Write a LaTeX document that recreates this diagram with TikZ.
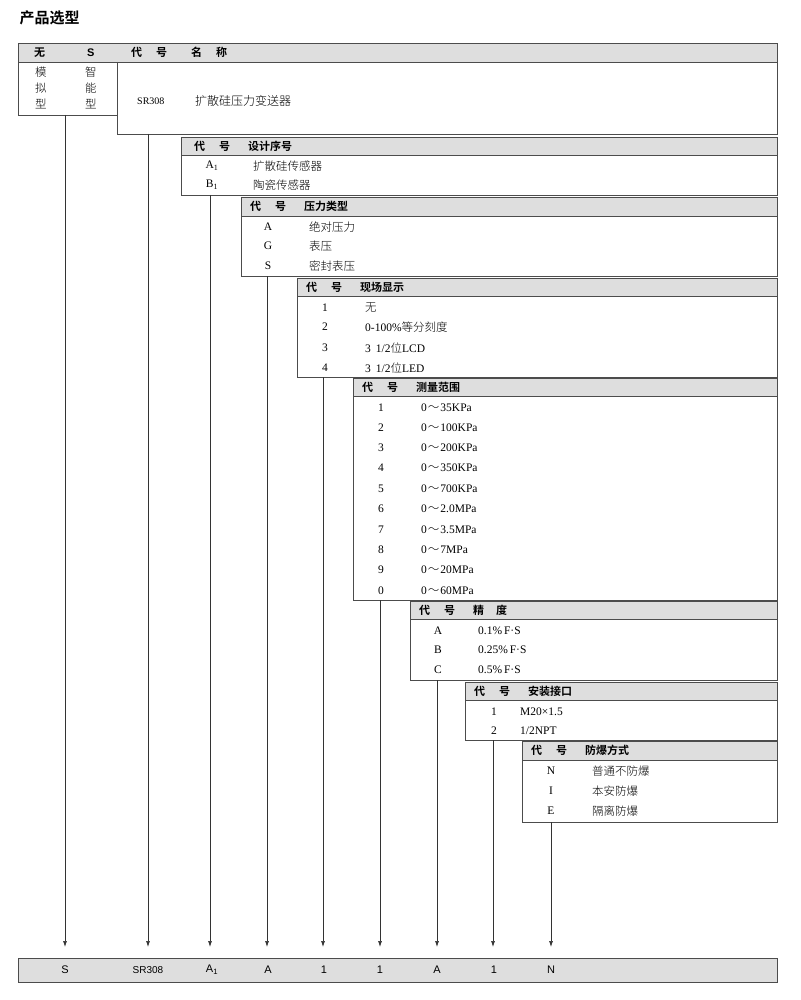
\documentclass[tikz,border=0pt]{standalone}
\usepackage{fontspec}
\setmainfont{Liberation Serif}
\setsansfont{Liberation Sans}
\newfontfamily\cjk{Noto Sans CJK SC}[BoldFont={Noto Sans CJK SC Bold}]
\newfontfamily\cjkl{Noto Sans CJK SC Light}
\usetikzlibrary{arrows.meta}
\begin{document}
\begin{tikzpicture}[x=1pt,y=-1pt,
  bar/.style={draw=black!70,fill=black!13,line width=0.8pt},
  boxl/.style={draw=black!70,line width=0.8pt},
  hd/.style={font=\cjk\bfseries\fontsize{11}{12}\selectfont,anchor=west,inner sep=0},
  rw/.style={font=\fontsize{11.5}{13}\selectfont,anchor=west,inner sep=0},
  cd/.style={font=\fontsize{11.5}{13}\selectfont,anchor=center,inner sep=0},
  bl/.style={font=\sffamily\fontsize{11}{12}\selectfont,anchor=center,inner sep=0},
  arr/.style={draw=black!80,line width=0.7pt,-{Latex[length=6pt,width=4pt]}}]
\useasboundingbox (0,0) rectangle (800,1000);
\node[anchor=west,font=\cjk\bfseries\fontsize{15}{16}\selectfont] (title) at (16,18) {产品选型};
% top header
\draw[bar] (18,43) rectangle (777,62);
\node[hd] (h1) at (34,52.5) {无};
\node[hd,font=\sffamily\bfseries\fontsize{11}{12}\selectfont] (h2) at (87,52.5) {S};
\node[hd] (h3) at (131,52.5) {代\hspace{14pt}号\hspace{24pt}名\hspace{14pt}称};
\draw[boxl] (18,62) rectangle (117,115);
\draw[boxl] (117,62) -- (117,134) -- (777,134) -- (777,62);
\foreach \t/\u [count=\i] in {模/智,拟/能,型/型}{
  \node[rw,font=\cjkl\fontsize{11.5}{13}\selectfont] (m\i) at (35,57+15.5*\i) {\t};
  \node[rw,font=\cjkl\fontsize{11.5}{13}\selectfont] (z\i) at (85,57+15.5*\i) {\u};}
\node[rw,font=\fontsize{10}{12}\selectfont] (sr) at (137,101) {SR308};
\node[rw,font=\cjkl\fontsize{12}{13}\selectfont] (srt) at (195,101) {扩散硅压力变送器};
% generic section: left, top, headbottom, bottom
\newcommand\mysec[4]{\draw[boxl] (#1,#3) -- (#1,#4) -- (777,#4) -- (777,#3);
  \draw[bar] (#1,#2) rectangle (777,#3);}
\newcommand\mysechd[3]{\node[hd] at (#1,#2) {#3};}
% sec 2
\mysec{181}{137}{155}{195}
\node[hd] (s2h) at (194,146) {代\hspace{14pt}号\hspace{18pt}设计序号};
\node[cd] (a1) at (212,166) {A\textsubscript{1}};
\node[cd] (b1) at (212,185) {B\textsubscript{1}};
\node[rw,font=\cjkl\fontsize{11.5}{13}\selectfont] at (253,166) {扩散硅传感器};
\node[rw,font=\cjkl\fontsize{11.5}{13}\selectfont] at (253,185) {陶瓷传感器};
% sec 3
\mysec{241}{197}{216}{276}
\node[hd] (s3h) at (250,206.5) {代\hspace{14pt}号\hspace{18pt}压力类型};
\foreach \c/\t/\y in {A/绝对压力/227,G/表压/246,S/密封表压/266}{
  \node[cd] at (268,\y) {\c};
  \node[rw,font=\cjkl\fontsize{11.5}{13}\selectfont] at (309,\y) {\t};}
% sec 4
\mysec{297}{278}{296}{377}
\node[hd] (s4h) at (306,287) {代\hspace{14pt}号\hspace{18pt}现场显示};
\foreach \c/\y in {1/308,2/327,3/348,4/368}{\node[cd] at (325,\y) {\c};}
\node[rw,font=\cjkl\fontsize{11.5}{13}\selectfont] at (365,308) {无};
\node[rw] at (365,327) {0-100\%{\cjkl 等分刻度}};
\node[rw] at (365,348) {3\hspace{5pt}1/2{\cjkl 位}LCD};
\node[rw] at (365,368) {3\hspace{5pt}1/2{\cjkl 位}LED};
% sec 5
\mysec{353}{378}{396}{600}
\node[hd] (s5h) at (362,387) {代\hspace{14pt}号\hspace{18pt}测量范围};
\foreach \c/\t/\y in {1/35KPa/408,2/100KPa/428,3/200KPa/448,4/350KPa/468,5/700KPa/489,6/2.0MPa/509,7/3.5MPa/530,8/7MPa/550,9/20MPa/570,0/60MPa/591}{
  \node[cd] at (381,\y) {\c};
  \node[rw] at (421,\y) {0{\cjkl\kern1pt～\kern1pt}\t};}
% sec 6
\mysec{410}{601}{619}{680}
\node[hd] (s6h) at (419,610) {代\hspace{14pt}号\hspace{18pt}精\hspace{12pt}度};
\foreach \c/\t/\y in {A/0.1/631,B/0.25/650,C/0.5/670}{
  \node[cd] at (438,\y) {\c};
  \node[rw] at (478,\y) {\t\%\,F·S};}
% sec 7
\mysec{465}{682}{700}{740}
\node[hd] (s7h) at (474,691) {代\hspace{14pt}号\hspace{18pt}安装接口};
\node[cd] at (494,712) {1}; \node[rw] at (520,712) {M20×1.5};
\node[cd] at (494,731) {2}; \node[rw] at (520,731) {1/2NPT};
% sec 8
\mysec{522}{741}{760}{822}
\node[hd] (s8h) at (531,750.5) {代\hspace{14pt}号\hspace{18pt}防爆方式};
\foreach \c/\t/\y in {N/普通不防爆/771,I/本安防爆/791,E/隔离防爆/811}{
  \node[cd] at (551,\y) {\c};
  \node[rw,font=\cjkl\fontsize{11.5}{13}\selectfont] at (592,\y) {\t};}
% bottom bar
\draw[bar] (18,958) rectangle (777,982);
\foreach \x/\t/\n in {65/S/o1,148/{\fontsize{10}{12}\selectfont SR308}/o2,212/{A\textsubscript{1}}/o3,268/A/o4,324/1/o5,380/1/o6,437/A/o7,494/1/o8,551/N/o9}{
  \node[bl] (\n) at (\x,970) {\t};
  \coordinate (e\n) at (\x,947);}
\foreach \x/\y/\n in {65/115/o1,148/134/o2,210/195/o3,267/276/o4,323/377/o5,380/600/o6,437/680/o7,493/740/o8,551/822/o9}{
  \coordinate (s\n) at (\x,\y);
  \draw[arr] (s\n) -- (s\n|-e\n);}
\end{tikzpicture}
\end{document}
